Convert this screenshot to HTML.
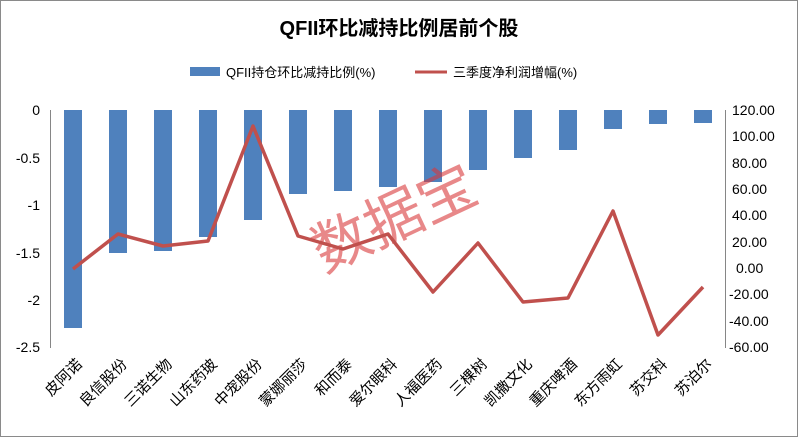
<!DOCTYPE html>
<html><head><meta charset="utf-8"><style>
body{margin:0;background:#fff;}
svg{display:block;font-family:"Liberation Sans","Noto Sans CJK SC",sans-serif;}
</style></head><body>
<svg width="798" height="437" viewBox="0 0 798 437">
<rect x="0.5" y="0.5" width="797" height="436" fill="#fff" stroke="#8a8a8a"/>
<text x="399" y="35" text-anchor="middle" font-size="20" font-weight="bold" fill="#000">QFII环比减持比例居前个股</text>
<rect x="190" y="67" width="30" height="9" fill="#4f81bd"/>
<text x="226" y="77" font-size="13" fill="#000">QFII持仓环比减持比例(%)</text>
<line x1="415" y1="72" x2="447" y2="72" stroke="#c0504d" stroke-width="3"/>
<text x="453" y="77" font-size="13" fill="#000">三季度净利润增幅(%)</text>
<g font-size="14" fill="#000" text-anchor="end">
<text x="40" y="115">0</text><text x="40" y="163">-0.5</text><text x="40" y="210">-1</text>
<text x="40" y="258">-1.5</text><text x="40" y="305">-2</text><text x="40" y="352">-2.5</text>
</g>
<g font-size="14" fill="#000">
<text x="732" y="115">120.00</text><text x="732" y="141">100.00</text><text x="732" y="168">80.00</text>
<text x="732" y="194">60.00</text><text x="732" y="220">40.00</text><text x="732" y="247">20.00</text>
<text x="736" y="273">0.00</text><text x="729" y="299">-20.00</text><text x="729" y="326">-40.00</text><text x="729" y="352">-60.00</text>
</g>
<line x1="50.5" y1="110" x2="50.5" y2="348" stroke="#868686"/>
<line x1="725.5" y1="110" x2="725.5" y2="348" stroke="#868686"/>
<g fill="#4f81bd">
<rect x="64" y="110" width="18" height="218"/>
<rect x="109" y="110" width="18" height="143"/>
<rect x="154" y="110" width="18" height="141"/>
<rect x="199" y="110" width="18" height="127"/>
<rect x="244" y="110" width="18" height="110"/>
<rect x="289" y="110" width="18" height="84"/>
<rect x="334" y="110" width="18" height="81"/>
<rect x="379" y="110" width="18" height="77"/>
<rect x="424" y="110" width="18" height="72"/>
<rect x="469" y="110" width="18" height="60"/>
<rect x="514" y="110" width="18" height="48"/>
<rect x="559" y="110" width="18" height="40"/>
<rect x="604" y="110" width="18" height="19"/>
<rect x="649" y="110" width="18" height="14"/>
<rect x="694" y="110" width="18" height="13"/>
</g>
<text x="395" y="238" font-size="58" fill="#d9383a" fill-opacity="0.6" text-anchor="middle" transform="rotate(-25 395 220)" font-family="'Noto Sans CJK SC',sans-serif">数据宝</text>
<polyline fill="none" stroke="#c0504d" stroke-width="3.5" stroke-linejoin="round" points="73,269 118,234 163,246 208,241 253,126 298,236 343,249 388,234 433,292 478,243 523,302 568,298 613,211 658,335 703,287"/>
<g font-size="15" fill="#000" text-anchor="end" font-family="'Noto Sans CJK SC','Liberation Sans',sans-serif">
<text transform="translate(83,365) rotate(-45)">皮阿诺</text>
<text transform="translate(128,365) rotate(-45)">良信股份</text>
<text transform="translate(173,365) rotate(-45)">三诺生物</text>
<text transform="translate(218,365) rotate(-45)">山东药玻</text>
<text transform="translate(263,365) rotate(-45)">中宠股份</text>
<text transform="translate(308,365) rotate(-45)">蒙娜丽莎</text>
<text transform="translate(353,365) rotate(-45)">和而泰</text>
<text transform="translate(398,365) rotate(-45)">爱尔眼科</text>
<text transform="translate(443,365) rotate(-45)">人福医药</text>
<text transform="translate(488,365) rotate(-45)">三棵树</text>
<text transform="translate(533,365) rotate(-45)">凯撒文化</text>
<text transform="translate(578,365) rotate(-45)">重庆啤酒</text>
<text transform="translate(623,365) rotate(-45)">东方雨虹</text>
<text transform="translate(668,365) rotate(-45)">苏交科</text>
<text transform="translate(713,365) rotate(-45)">苏泊尔</text>
</g>
</svg>
</body></html>
